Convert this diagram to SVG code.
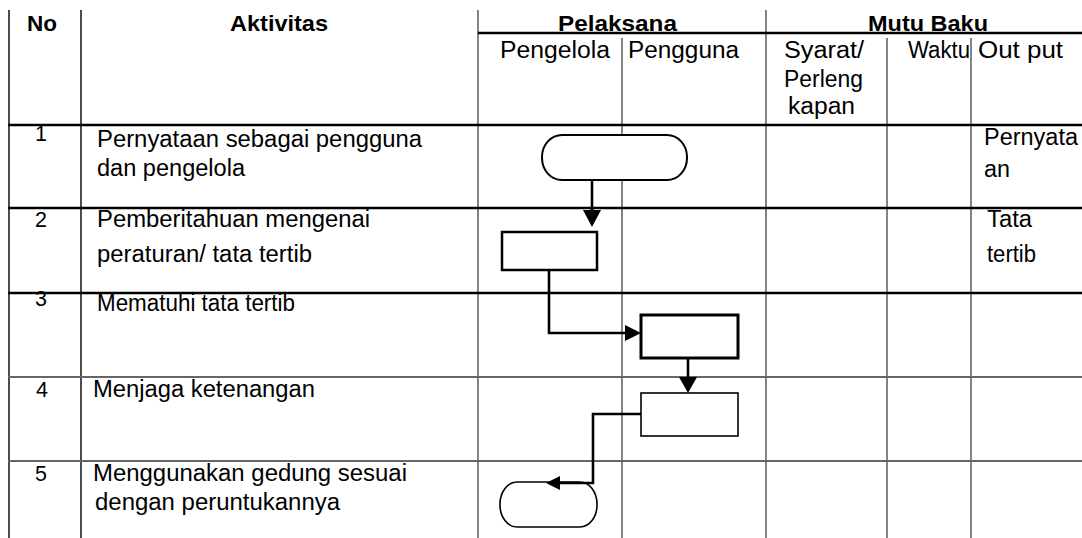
<svg xmlns="http://www.w3.org/2000/svg" width="1082" height="538" viewBox="0 0 1082 538">
<defs>
<style>
.t{font-family:"Liberation Sans",Arial,sans-serif;font-size:23px;fill:#000}
.n{font-family:"Liberation Sans",Arial,sans-serif;font-size:21.5px;fill:#000;text-anchor:middle}
.h{font-family:"Liberation Sans",Arial,sans-serif;font-size:22.5px;font-weight:bold;fill:#000}
.vl{stroke:#333;stroke-width:1.2;fill:none}
.vk{stroke:#000;stroke-width:1.4;fill:none}
.hk{stroke:#000;stroke-width:2.6;fill:none}
.hg{stroke:#666;stroke-width:1.8;fill:none}
.c{stroke:#000;stroke-width:2.6;fill:none}
.ah{fill:#000;stroke:none}
</style>
</defs>
<rect width="1082" height="538" fill="#fff"/>
<g id="grid">
<line class="vk" x1="9" y1="10" x2="9" y2="538"/>
<line class="vk" x1="81" y1="10" x2="81" y2="538"/>
<line class="vl" x1="478" y1="10" x2="478" y2="538"/>
<line class="vl" x1="622" y1="38" x2="622" y2="538"/>
<line class="vl" x1="766" y1="10" x2="766" y2="538"/>
<line class="vl" x1="887" y1="38" x2="887" y2="538"/>
<line class="vl" x1="971" y1="38" x2="971" y2="538"/>
<line class="hk" x1="478" y1="33" x2="1082" y2="33"/>
<line class="hk" x1="8" y1="125" x2="1082" y2="125"/>
<line class="hk" x1="8" y1="208" x2="1082" y2="208"/>
<line class="hk" x1="8" y1="293" x2="1082" y2="293"/>
<line class="hg" x1="8" y1="377" x2="1082" y2="377"/>
<line class="hg" x1="8" y1="461" x2="1082" y2="461"/>
</g>
<g id="header">
<text class="h" x="27" y="31" textLength="30" lengthAdjust="spacingAndGlyphs">No</text>
<text class="h" x="230" y="31" textLength="98" lengthAdjust="spacingAndGlyphs">Aktivitas</text>
<text class="h" x="558" y="31" textLength="119" lengthAdjust="spacingAndGlyphs">Pelaksana</text>
<text class="h" x="868" y="31" textLength="120" lengthAdjust="spacingAndGlyphs">Mutu Baku</text>
<text class="t" x="500" y="58" textLength="110" lengthAdjust="spacingAndGlyphs">Pengelola</text>
<text class="t" x="628" y="58" textLength="111" lengthAdjust="spacingAndGlyphs">Pengguna</text>
<text class="t" x="784" y="58" textLength="80" lengthAdjust="spacingAndGlyphs">Syarat/</text>
<text class="t" x="784" y="87" textLength="79" lengthAdjust="spacingAndGlyphs">Perleng</text>
<text class="t" x="788" y="114" textLength="67" lengthAdjust="spacingAndGlyphs">kapan</text>
<text class="t" x="908" y="58" textLength="62" lengthAdjust="spacingAndGlyphs">Waktu</text>
<text class="t" x="978" y="58" textLength="85" lengthAdjust="spacingAndGlyphs">Out put</text>
</g>
<g id="rows">
<text class="n" x="41" y="141">1</text>
<text class="t" x="97" y="147" textLength="325" lengthAdjust="spacingAndGlyphs">Pernyataan sebagai pengguna</text>
<text class="t" x="97" y="176" textLength="148" lengthAdjust="spacingAndGlyphs">dan pengelola</text>
<text class="t" x="984" y="145" textLength="94" lengthAdjust="spacingAndGlyphs">Pernyata</text>
<text class="t" x="984" y="177" textLength="26" lengthAdjust="spacingAndGlyphs">an</text>
<text class="n" x="41" y="227">2</text>
<text class="t" x="97" y="227" textLength="273" lengthAdjust="spacingAndGlyphs">Pemberitahuan mengenai</text>
<text class="t" x="97" y="262" textLength="215" lengthAdjust="spacingAndGlyphs">peraturan/ tata tertib</text>
<text class="t" x="987" y="227" textLength="45" lengthAdjust="spacingAndGlyphs">Tata</text>
<text class="t" x="987" y="262" textLength="49" lengthAdjust="spacingAndGlyphs">tertib</text>
<text class="n" x="41" y="306">3</text>
<text class="t" x="97" y="311" textLength="198" lengthAdjust="spacingAndGlyphs">Mematuhi tata tertib</text>
<text class="n" x="42" y="397">4</text>
<text class="t" x="93" y="397" textLength="222" lengthAdjust="spacingAndGlyphs">Menjaga ketenangan</text>
<text class="n" x="41" y="481">5</text>
<text class="t" x="93" y="481" textLength="314" lengthAdjust="spacingAndGlyphs">Menggunakan gedung sesuai</text>
<text class="t" x="95" y="510" textLength="245" lengthAdjust="spacingAndGlyphs">dengan peruntukannya</text>
</g>
<g id="node1"><rect x="542" y="135" width="145" height="45" rx="20" ry="22" fill="#fff" stroke="#000" stroke-width="2"/></g>
<g id="node2"><rect x="502" y="232" width="95" height="38" fill="#fff" stroke="#000" stroke-width="2.5"/></g>
<g id="node3"><rect x="641" y="315" width="97" height="43" fill="#fff" stroke="#000" stroke-width="3"/></g>
<g id="node4"><rect x="641" y="393" width="97" height="43" fill="#fff" stroke="#000" stroke-width="1.6"/></g>
<g id="node5"><rect x="500" y="482" width="97" height="45" rx="17" ry="22" fill="#fff" stroke="#000" stroke-width="1.6"/></g>
<g id="connectors">
<path class="c" d="M592 180 V212"/>
<polygon class="ah" points="583,210 601,210 592,227"/>
<path class="c" d="M549 270 V333 H627"/>
<polygon class="ah" points="625,325 625,341 641,333"/>
<path class="c" d="M688 358 V379"/>
<polygon class="ah" points="679,377 697,377 688,393"/>
<path class="c" d="M641 414 H593 V483 H558"/>
<polygon class="ah" points="560,476 560,490 546,483"/>
</g>
</svg>
